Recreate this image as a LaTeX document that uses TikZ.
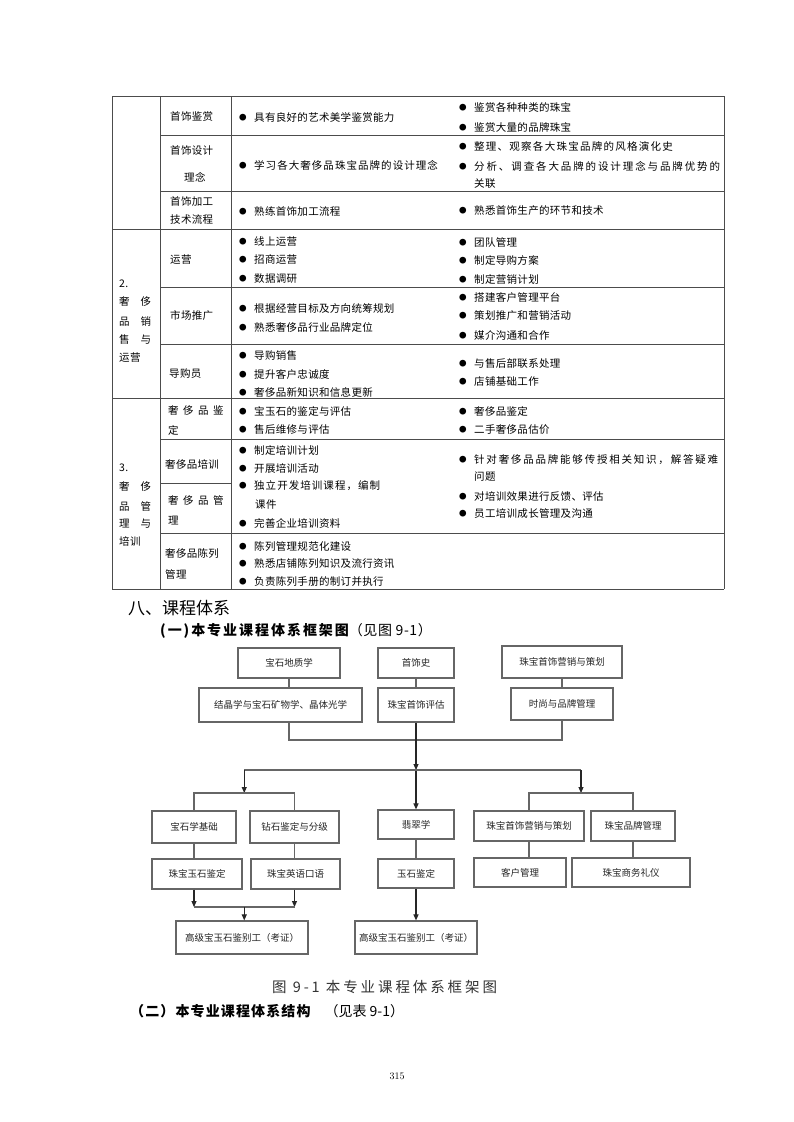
\documentclass[tikz,border=0pt]{standalone}
\usepackage{fontspec}
\newfontfamily\cjk{Noto Sans CJK SC}
\usetikzlibrary{arrows.meta}
\newcommand\bu{\makebox[15pt][l]{\fontsize{7.5pt}{8pt}\selectfont\raisebox{1pt}{●}}}
\newcommand\lsp[2]{{\addfontfeature{LetterSpace=#1}#2}}
\begin{document}
\begin{tikzpicture}[x=1pt,y=-1pt,
  tl/.style={anchor=west, inner sep=0pt, text=black, font=\cjk\fontsize{10.5pt}{12pt}\selectfont\addfontfeature{LetterSpace=3}},
  tbl/.style={draw=black!70, line width=0.9pt},
  fbox/.style={draw=black!60, line width=1.2pt, fill=white, inner sep=0pt, text=black!85, font=\cjk\fontsize{9.5pt}{11pt}\selectfont},
  fl/.style={draw=black!60, line width=1.1pt},
  fa/.style={draw=black!85, line width=1.1pt, -{Triangle[length=6pt,width=5pt]}},
  head/.style={anchor=west, inner sep=0pt, text=black}
]
\fill[white] (0,0) rectangle (793,1122);
\useasboundingbox (0,0) rectangle (793,1122);

% ---------------- table lines ----------------
\draw[tbl] (112,96) -- (724,96);
\draw[tbl] (112,229) -- (724,229);
\draw[tbl] (112,398) -- (724,398);
\draw[tbl] (112,589) -- (724,589);
\draw[tbl] (160,135) -- (724,135);
\draw[tbl] (160,191) -- (724,191);
\draw[tbl] (160,287) -- (724,287);
\draw[tbl] (160,344) -- (724,344);
\draw[tbl] (160,439) -- (724,439);
\draw[tbl] (160,483) -- (231,483);
\draw[tbl] (160,533) -- (724,533);
\draw[tbl] (112,96) -- (112,589);
\draw[tbl] (160,96) -- (160,589);
\draw[tbl] (231,96) -- (231,589);
\draw[tbl] (724,96) -- (724,589);

% ---------------- section 1 ----------------
\node[tl] (a1) at (170,116) {首饰鉴赏};
\node[tl] (a2) at (239,117) {\bu 具有良好的艺术美学鉴赏能力};
\node[tl] (a3) at (459,107) {\bu 鉴赏各种种类的珠宝};
\node[tl] (a4) at (459,127) {\bu 鉴赏大量的品牌珠宝};
\node[tl] (b1t) at (170,151) {首饰设计};
\node[tl] (b2t) at (184,177) {理念};
\node[tl] (b3t) at (239,165) {\bu \lsp{10}{学习各大奢侈品珠宝品牌的设计理念}};
\node[tl] (b4t) at (459,146) {\bu \lsp{12}{整理、观察各大珠宝品牌的风格演化史}};
\node[tl] (b5t) at (459,166) {\bu \lsp{18}{分析、调查各大品牌的设计理念与品牌优势的}};
\node[tl] (b6t) at (474,184) {关联};
\node[tl] (c1t) at (170,201) {首饰加工};
\node[tl] (c2t) at (170,220) {技术流程};
\node[tl] (c3t) at (239,211) {\bu 熟练首饰加工流程};
\node[tl] (c4t) at (459,211) {\bu 熟悉首饰生产的环节和技术};

% ---------------- section 2 ----------------
\node[tl] (s2a) at (119,284) {2.};
\node[tl] (s2b) at (119,302) {奢\hspace{11pt}侈};
\node[tl] (s2c) at (119,321) {品\hspace{11pt}销};
\node[tl] (s2d) at (119,340) {售\hspace{11pt}与};
\node[tl] (s2e) at (119,358) {运营};

\node[tl] (d0) at (170,260) {运营};
\node[tl] (d1) at (239,242) {\bu 线上运营};
\node[tl] (d2) at (239,260) {\bu 招商运营};
\node[tl] (d3) at (239,279) {\bu 数据调研};
\node[tl] (d4) at (459,242) {\bu 团队管理};
\node[tl] (d5) at (459,260) {\bu 制定导购方案};
\node[tl] (d6) at (459,279) {\bu 制定营销计划};

\node[tl] (e0) at (170,316) {市场推广};
\node[tl] (e1) at (239,308) {\bu 根据经营目标及方向统筹规划};
\node[tl] (e2) at (239,327) {\bu 熟悉奢侈品行业品牌定位};
\node[tl] (e3) at (459,297) {\bu 搭建客户管理平台};
\node[tl] (e4) at (459,316) {\bu 策划推广和营销活动};
\node[tl] (e5) at (459,335) {\bu 媒介沟通和合作};

\node[tl] (f0) at (169,374) {导购员};
\node[tl] (f1) at (239,356) {\bu 导购销售};
\node[tl] (f2) at (239,374) {\bu 提升客户忠诚度};
\node[tl] (f3) at (239,392) {\bu 奢侈品新知识和信息更新};
\node[tl] (f4) at (459,364) {\bu 与售后部联系处理};
\node[tl] (f5) at (459,382) {\bu 店铺基础工作};

% ---------------- section 3 ----------------
\node[tl] (s3a) at (119,468) {3.};
\node[tl] (s3b) at (119,487) {奢\hspace{11pt}侈};
\node[tl] (s3c) at (119,506) {品\hspace{11pt}管};
\node[tl] (s3d) at (119,524) {理\hspace{11pt}与};
\node[tl] (s3e) at (119,541) {培训};

\node[tl] (g0) at (168,411) {奢\hspace{4.5pt}侈\hspace{4.5pt}品\hspace{4.5pt}鉴};
\node[tl] (g0b) at (168,430) {定};
\node[tl] (g1t) at (239,411) {\bu 宝玉石的鉴定与评估};
\node[tl] (g2t) at (239,430) {\bu 售后维修与评估};
\node[tl] (g3t) at (459,411) {\bu 奢侈品鉴定};
\node[tl] (g4t) at (459,430) {\bu 二手奢侈品估价};

\node[tl] (h0) at (165,464) {奢侈品培训};
\node[tl] (h0b) at (168,501) {奢\hspace{4.5pt}侈\hspace{4.5pt}品\hspace{4.5pt}管};
\node[tl] (h0c) at (168,521) {理};
\node[tl] (h1) at (239,450) {\bu 制定培训计划};
\node[tl] (h2) at (239,468) {\bu 开展培训活动};
\node[tl] (h3) at (239,486) {\bu \lsp{10}{独立开发培训课程，编制}};
\node[tl] (h4) at (255,505) {课件};
\node[tl] (h5) at (239,523) {\bu 完善企业培训资料};
\node[tl] (h6) at (459,460) {\bu \lsp{17}{针对奢侈品品牌能够传授相关知识，解答疑难}};
\node[tl] (h7) at (474,477) {问题};
\node[tl] (h8) at (459,496) {\bu 对培训效果进行反馈、评估};
\node[tl] (h9) at (459,514) {\bu 员工培训成长管理及沟通};

\node[tl] (k0) at (165,553) {奢侈品陈列};
\node[tl] (k0b) at (165,574) {管理};
\node[tl] (k1) at (239,546) {\bu 陈列管理规范化建设};
\node[tl] (k2) at (239,564) {\bu 熟悉店铺陈列知识及流行资讯};
\node[tl] (k3) at (239,581) {\bu 负责陈列手册的制订并执行};

% ---------------- headings ----------------
\node[head, font=\cjk\fontsize{17pt}{19pt}\selectfont] (h8a) at (128,608) {八、课程体系};
\node[head, font=\cjk\fontsize{14pt}{16pt}\selectfont\addfontfeature{LetterSpace=4}] (h8b) at (160,631) {{\bfseries\addfontfeature{LetterSpace=14}(一)本专业课程体系框架图}（见图 9-1）};

% ---------------- flowchart ----------------
\node[fbox, minimum width=102, minimum height=30] (t1) at (289,663) {宝石地质学};
\node[fbox, minimum width=76, minimum height=30] (t2) at (416,663) {首饰史};
\node[fbox, minimum width=120, minimum height=32] (t3) at (562,662) {珠宝首饰营销与策划};
\node[fbox, minimum width=163, minimum height=34] (m1) at (280.5,705) {结晶学与宝石矿物学、晶体光学};
\node[fbox, minimum width=76, minimum height=34] (m2) at (416,705) {珠宝首饰评估};
\node[fbox, minimum width=102, minimum height=32] (m3) at (562,704) {时尚与品牌管理};

\node[fbox, minimum width=84, minimum height=32] (b1) at (194,827) {宝石学基础\hspace{16pt}};
\node[fbox, minimum width=89, minimum height=32] (b2) at (294.5,827) {钻石鉴定与分级};
\node[fbox, minimum width=76, minimum height=29] (fc) at (416,824.5) {翡翠学};
\node[fbox, minimum width=110, minimum height=30] (r1) at (529,826) {珠宝首饰营销与策划};
\node[fbox, minimum width=84, minimum height=30] (r2) at (633,826) {珠宝品牌管理};

\node[fbox, minimum width=90, minimum height=30] (c1) at (197,874) {珠宝玉石鉴定};
\node[fbox, minimum width=89, minimum height=30] (c2) at (295.5,874) {珠宝英语口语};
\node[fbox, minimum width=76, minimum height=29] (yc) at (416,873.5) {玉石鉴定};
\node[fbox, minimum width=92, minimum height=29] (s1) at (520,872.5) {客户管理};
\node[fbox, minimum width=118, minimum height=29] (s2) at (631,872.5) {珠宝商务礼仪};

\node[fbox, minimum width=132, minimum height=33] (g1) at (242,937.5) {高级宝玉石鉴别工（考证）};
\node[fbox, minimum width=122, minimum height=33] (g2) at (416,937.5) {高级宝玉石鉴别工（考证）};

\coordinate (jl) at (289,740);
\coordinate (jr) at (562,740);
\coordinate (hc) at (416,770);
\coordinate (hl) at (244.25,770);
\coordinate (hr) at (581,770);
\coordinate (bl) at (244.25,793);
\coordinate (br) at (581,793);
\coordinate (ql) at (194,907);
\coordinate (qr) at (294.5,907);
\coordinate (qm) at (244.25,907);

\draw[fl] (t1.south) -- (t1.south |- m1.north);
\draw[fl] (t2.south) -- (m2.north);
\draw[fl] (t3.south) -- (m3.north);
\draw[fl] (m1.south -| jl) -- (jl) -- (jr) -- (m3.south);
\draw[fa] (m2.south) -- (hc);
\draw[fa] (hc) -- (fc.north);
\draw[fl] (hl) -- (hr);
\draw[fa] (hl) -- (bl);
\draw[fa] (hr) -- (br);
\draw[fl] (b1.north) -- (b1.north |- bl) -- (b2.north |- bl) -- (b2.north);
\draw[fl] (r1.north) -- (r1.north |- br) -- (r2.north |- br) -- (r2.north);
\draw[fl] (b1.south) -- (b1.south |- c1.north);
\draw[fl] (b2.south) -- (b2.south |- c2.north);
\draw[fl] (fc.south) -- (yc.north);
\draw[fl] (r1.south) -- (r1.south |- s1.north);
\draw[fl] (r2.south) -- (r2.south |- s2.north);
\draw[fa] (c1.south -| ql) -- (ql);
\draw[fa] (c2.south -| qr) -- (qr);
\draw[fl] (ql) -- (qr);
\draw[fa] (qm) -- (g1.north -| qm);
\draw[fa] (yc.south) -- (g2.north);

% ---------------- captions ----------------
\node[head, text=black!80, font=\cjk\fontsize{14.5pt}{16pt}\selectfont\addfontfeature{LetterSpace=20}] (cap) at (272,987) {图 9-1 本专业课程体系框架图};
\node[head, font=\cjk\fontsize{14pt}{16pt}\selectfont] (h8c) at (130,1011) {{\bfseries\addfontfeature{LetterSpace=8}（二）本专业课程体系结构}\hspace{14pt}（见表 9-1）};
\node[inner sep=0pt, font=\fontsize{10pt}{11pt}\selectfont] (pg) at (397,1076) {315};
\end{tikzpicture}
\end{document}
